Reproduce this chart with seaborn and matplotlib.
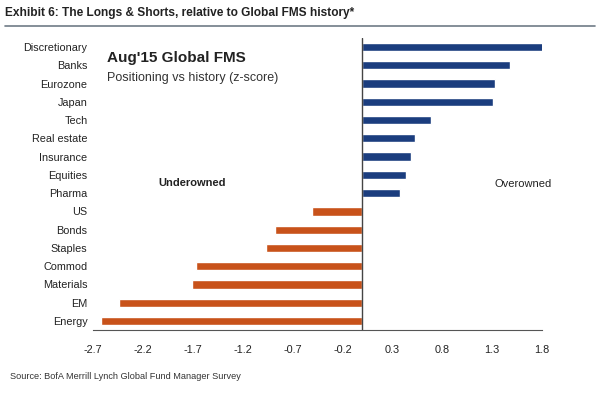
import matplotlib
matplotlib.use('Agg')
import matplotlib.pyplot as plt
import seaborn as sns
import pandas as pd

# Values (z-scores)
categories = ['Discretionary', 'Banks', 'Eurozone', 'Japan', 'Tech', 'Real estate',
              'Insurance', 'Equities', 'Pharma', 'US', 'Bonds', 'Staples',
              'Commod', 'Materials', 'EM', 'Energy']
zscores = [1.81, 1.48, 1.33, 1.31, 0.69, 0.53, 0.49, 0.44, 0.38,
           -0.50, -0.88, -0.97, -1.67, -1.71, -2.44, -2.62]
tick_values = [-2.7, -2.2, -1.7, -1.2, -0.7, -0.2, 0.3, 0.8, 1.3, 1.8]

df = pd.DataFrame({'cat': categories, 'z': zscores})
df['side'] = ['Over' if v > 0 else 'Under' for v in df['z']]

sns.set_style('white')
plt.rcParams['font.family'] = ['Liberation Sans', 'DejaVu Sans']

fig = plt.figure(figsize=(6, 3.94), dpi=100)
ax = fig.add_axes([0.155, 0.162, 0.748, 0.742])

sns.barplot(data=df, x='z', y='cat', hue='side', order=categories,
            palette={'Over': '#1b3d7e', 'Under': '#c8521a'}, saturation=1,
            dodge=False, legend=False, width=0.45, ax=ax)

ax.set_xlim(-2.7, 1.8)
ax.set_ylim(15.5, -0.5)
ax.set_xticks(tick_values)
ax.set_xticklabels([f'{t:g}' for t in tick_values], fontsize=7.8, color='#222222')
ax.set_yticks(range(len(categories)))
ax.set_yticklabels(categories, fontsize=7.8, color='#222222')
ax.tick_params(axis='y', length=0, pad=4)
ax.tick_params(axis='x', direction='out', length=4, width=0.8, color='#555555', pad=7)
ax.set_xlabel('')
ax.set_ylabel('')
for s in ['left', 'right', 'top']:
    ax.spines[s].set_visible(False)
ax.spines['bottom'].set_color('#555555')
ax.spines['bottom'].set_linewidth(0.8)
ax.axvline(0, color='#444444', lw=1)

ax.text(-2.56, 0.6, "Aug'15 Global FMS", fontsize=11, fontweight='bold',
        color='#222222', va='center')
ax.text(-2.56, 1.7, 'Positioning vs history (z-score)', fontsize=9,
        color='#333333', va='center')
ax.text(-1.71, 7.45, 'Underowned', fontsize=8, fontweight='bold', color='#222222',
        ha='center', va='center')
ax.text(1.61, 7.5, 'Overowned', fontsize=8, color='#222222', ha='center', va='center')

fig.text(0.008, 0.967, 'Exhibit 6: The Longs & Shorts, relative to Global FMS history*',
         fontsize=8.6, fontweight='bold', color='#222222', va='center')
fig.add_artist(plt.Line2D([0.008, 0.992], [0.934, 0.934], color='#707c86', lw=1.2))
fig.text(0.017, 0.045, 'Source: BofA Merrill Lynch Global Fund Manager Survey',
         fontsize=6.6, color='#333333', va='center')

fig.savefig('out.png', dpi=100)
